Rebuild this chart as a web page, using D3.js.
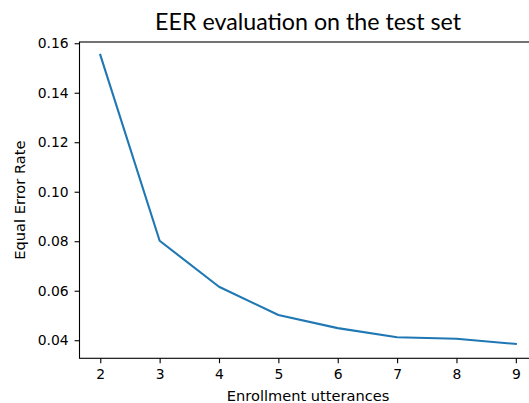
<!DOCTYPE html>
<html lang="en">
  <head>
    <meta charset="UTF-8" />
    <title>EER evaluation on the test set</title>
    <style>
      body {
        margin: 0;
        background: #fff;
      }
      .tick text {
        font-family: "DejaVu Sans", sans-serif;
        font-size: 13.9px;
        fill: #000;
      }
      .tick line {
        stroke: #000;
        stroke-width: 1.1px;
      }
      .domain {
        display: none;
      }
    </style>
  </head>
  <body>
    <div id="chart"></div>
    <script src="https://cdn.jsdelivr.net/npm/d3@7"></script>
    <script>
      const enrollments = [2, 3, 4, 5, 6, 7, 8, 9];
      const eer = [0.1553, 0.0802, 0.0616, 0.0502, 0.0449, 0.0412, 0.0406, 0.0385];
      const yTicks = [0.04, 0.06, 0.08, 0.1, 0.12, 0.14, 0.16];

      const width = 529,
        height = 403;
      const axLeft = 79.5,
        axRight = 536.6,
        axTop = 42,
        axBottom = 358.3;

      const svg = d3
        .select("#chart")
        .append("svg")
        .attr("width", width)
        .attr("height", height);

      // matplotlib style 5% margins
      const xr = d3.max(enrollments) - d3.min(enrollments);
      const x = d3
        .scaleLinear()
        .domain([d3.min(enrollments) - 0.05 * xr, d3.max(enrollments) + 0.05 * xr])
        .range([axLeft, axRight]);

      const y = d3.scaleLinear().domain([0.0327, 0.1605]).range([axBottom, axTop]);

      svg
        .append("g")
        .attr("transform", `translate(0,${axBottom})`)
        .call(d3.axisBottom(x).tickValues(enrollments).tickFormat(d3.format("d")).tickSize(4.9).tickPadding(5.5));

      svg
        .append("g")
        .attr("transform", `translate(${axLeft},0)`)
        .call(d3.axisLeft(y).tickValues(yTicks).tickFormat(d3.format(".2f")).tickSize(4.9).tickPadding(6));

      const line = d3
        .line()
        .x((d, i) => x(enrollments[i]))
        .y((d) => y(d));

      svg
        .append("path")
        .datum(eer)
        .attr("fill", "none")
        .attr("stroke", "#1f77b4")
        .attr("stroke-width", 2.1)
        .attr("stroke-linejoin", "round")
        .attr("stroke-linecap", "square")
        .attr("d", line);

      // spines
      svg
        .append("rect")
        .attr("x", axLeft)
        .attr("y", axTop)
        .attr("width", axRight - axLeft)
        .attr("height", axBottom - axTop)
        .attr("fill", "none")
        .attr("stroke", "#000")
        .attr("stroke-width", 1.1);

      const title = svg
        .append("text")
        .attr("x", (axLeft + axRight) / 2)
        .attr("y", 30)
        .attr("text-anchor", "middle")
        .style("font-family", "Lato, sans-serif")
        .style("font-size", "21px")
        .text("EER evaluation on the test set");
      // title in the original is ~306px wide, size the fallback font to match
      const tw = title.node().getComputedTextLength();
      if (tw > 0) title.style("font-size", (21 * 306) / tw + "px");

      svg
        .append("text")
        .attr("x", (axLeft + axRight) / 2)
        .attr("y", 401)
        .attr("text-anchor", "middle")
        .style("font-family", "DejaVu Sans, sans-serif")
        .style("font-size", "14.6px")
        .text("Enrollment utterances");

      svg
        .append("text")
        .attr("transform", `translate(25,${(axTop + axBottom) / 2}) rotate(-90)`)
        .attr("text-anchor", "middle")
        .style("font-family", "DejaVu Sans, sans-serif")
        .style("font-size", "14.6px")
        .text("Equal Error Rate");
    </script>
  </body>
</html>
